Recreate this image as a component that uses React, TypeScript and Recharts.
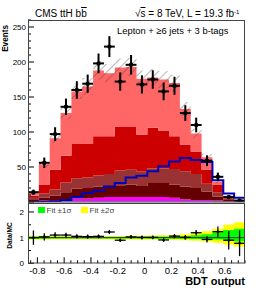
import React from 'react';
import { ComposedChart, Area, Line, Scatter, ErrorBar, XAxis, YAxis, ReferenceLine } from 'recharts';

const FONT = '"Liberation Sans", Arial, Helvetica, sans-serif';

// binning of the BDT output
const xMin = -0.87;
const xMax = 0.75;
const nBins = 20;
const binW = (xMax - xMin) / nBins;
const binEdges = Array.from({ length: nBins + 1 }, (_, i) => xMin + i * binW);
const binCenters = Array.from({ length: nBins }, (_, i) => xMin + (i + 0.5) * binW);

// stacked backgrounds, bottom to top
const ewk = [0.7, 1, 1, 1, 1, 1, 1, 1.2, 1.2, 1.2, 1.2, 1.2, 1.2, 1, 1, 1, 1, 0.8, 0.5, 0.2];
const singleTop = [0.8, 1, 2, 3, 4, 4, 5, 5.8, 5.8, 5.8, 5.8, 5.8, 5.8, 5, 3, 2, 2, 1.2, 0.5, 0.2];
const ttbb = [1.5, 4, 6, 10, 14, 15, 16, 16, 17, 18, 16, 20, 20, 19, 18, 17, 12, 6, 2, 0.4];
const ttb = [4, 6, 9, 14, 15, 15, 16, 17, 21, 21, 21, 21, 21, 22, 22, 20, 11, 6, 2, 0.2];
const ttcc = [2, 13, 28, 38, 49, 48, 56, 54, 62, 61, 52, 58, 54, 47, 38, 32, 20, 11, 3, 1];
const ttlf = [5, 29, 45, 61, 75, 82, 94, 90, 85, 86, 80, 72, 73, 76, 51, 26, 18, 4, 1, 1];
const bkgUnc = [1.5, 4, 7, 9, 11, 12, 13, 13, 13, 13, 12, 12, 12, 12, 10, 7, 5, 2.5, 1, 0.4];

// signal (overlay line)
const tthSignal = [0, 0.5, 1, 3, 7, 13, 16, 22, 27, 35, 37.6, 44, 51, 58, 63, 60, 57, 31, 12, 6];

// data
const dataCounts = [14, 56, 97, 136, 160, 169, 198, 222, 172, 196, 168, 175, 158, 166, 127, 110, 59, 36, 7, 2];
const dataErr = [3.7, 7.5, 9.8, 11.7, 12.6, 13, 14.1, 14.9, 13.1, 14, 13, 13.2, 12.6, 12.9, 11.3, 10.5, 7.7, 6, 2.6, 1.4];

// ratio panel
const ratioVals = [1.0, 1.03, 1.1, 1.1, 1.05, 1.04, 1.05, 1.22, 0.9, 1.03, 1.01, 1.01, 0.91, 1.06, 1.01, 1.19, 0.93, 1.23, 0.9, 0.78];
const ratioErr = [0.28, 0.14, 0.11, 0.095, 0.082, 0.08, 0.075, 0.082, 0.069, 0.073, 0.078, 0.076, 0.073, 0.082, 0.09, 0.11, 0.12, 0.2, 0.36, 0.5];
const fit1Lo = [0.96, 0.96, 0.965, 0.965, 0.965, 0.965, 0.965, 0.965, 0.965, 0.965, 0.965, 0.96, 0.96, 0.96, 0.955, 0.95, 0.95, 0.93, 0.88, 0.85];
const fit1Hi = [1.04, 1.04, 1.035, 1.035, 1.035, 1.035, 1.035, 1.035, 1.035, 1.035, 1.04, 1.04, 1.045, 1.05, 1.06, 1.09, 1.13, 1.2, 1.3, 1.35];
const fit2Lo = [0.93, 0.93, 0.935, 0.935, 0.935, 0.935, 0.935, 0.935, 0.935, 0.93, 0.93, 0.925, 0.92, 0.915, 0.9, 0.88, 0.85, 0.8, 0.72, 0.65];
const fit2Hi = [1.07, 1.07, 1.065, 1.065, 1.065, 1.065, 1.065, 1.065, 1.065, 1.07, 1.075, 1.08, 1.09, 1.1, 1.13, 1.18, 1.25, 1.35, 1.5, 1.6];

// axis ticks
const xMajorTicks = [-0.8, -0.6, -0.4, -0.2, 0, 0.2, 0.4, 0.6];
const xAllTicks = Array.from({ length: 33 }, (_, i) => Math.round((-0.85 + i * 0.05) * 100) / 100);
const yMainTicks = Array.from({ length: 27 }, (_, i) => i * 10);
const yMainLabels = [50, 100, 150, 200, 250];
const yRatioTicks = [0, 0.5, 1, 1.5, 2];
const yRatioLabels = [0, 1, 2];

const COLORS = {
  ewk: '#66ccff',
  singleTop: '#ff00ff',
  ttbb: '#660000',
  ttb: '#993333',
  ttcc: '#cc0000',
  ttlf: '#ff6666',
  sig: '#0000bb',
};

const edgeData = binEdges.map((x, i) => {
  const j = Math.min(i, nBins - 1);
  const tot = ewk[j] + singleTop[j] + ttbb[j] + ttb[j] + ttcc[j] + ttlf[j];
  return {
    x,
    ewk: ewk[j],
    singleTop: singleTop[j],
    ttbb: ttbb[j],
    ttb: ttb[j],
    ttcc: ttcc[j],
    ttlf: ttlf[j],
    band: [tot - bkgUnc[j], tot + bkgUnc[j]],
    sig: tthSignal[j],
  };
});

const ratioEdgeData = binEdges.map((x, i) => {
  const j = Math.min(i, nBins - 1);
  return { x, f1: [fit1Lo[j], fit1Hi[j]], f2: [fit2Lo[j], fit2Hi[j]] };
});

const dataPts = binCenters.map((x, i) => ({ x, y: dataCounts[i], ex: binW / 2, ey: dataErr[i] }));
const ratioPts = binCenters.map((x, i) => ({ x, y: ratioVals[i], ex: binW / 2, ey: ratioErr[i] }));

const isMajorX = (v: number) => xMajorTicks.some((m) => Math.abs(m - v) < 1e-6);

const makeXTick = (labels: boolean) => (props: any) => {
  const { x, y, payload } = props;
  const v = payload.value;
  const major = isMajorX(v);
  return (
    <g>
      <line x1={x} x2={x} y1={y} y2={y - (major ? 6 : 3)} stroke="#000" strokeWidth={1} />
      {labels && major && (
        <text x={x} y={y + 11} textAnchor="middle" fontSize={9.5} fontFamily={FONT} fill="#000">
          {v === 0 ? '0' : v.toFixed(1)}
        </text>
      )}
    </g>
  );
};

const YTickMain = (props: any) => {
  const { x, y, payload } = props;
  const v = payload.value;
  const major = v % 50 === 0;
  return (
    <g>
      <line x1={x} x2={x + (major ? 6 : 3)} y1={y} y2={y} stroke="#000" strokeWidth={1} />
      {yMainLabels.includes(v) && (
        <text x={x - 2} y={y + 3} textAnchor="end" fontSize={8} fontFamily={FONT} fill="#000">
          {v}
        </text>
      )}
    </g>
  );
};

const YTickRatio = (props: any) => {
  const { x, y, payload } = props;
  const v = payload.value;
  const major = yRatioLabels.includes(v);
  return (
    <g>
      <line x1={x} x2={x + (major ? 6 : 3)} y1={y} y2={y} stroke="#000" strokeWidth={1} />
      {major && (
        <text x={x - 4} y={y + 3} textAnchor="end" fontSize={8} fontFamily={FONT} fill="#000">
          {v}
        </text>
      )}
    </g>
  );
};

const DataDot = (props: any) => <circle cx={props.cx} cy={props.cy} r={2.2} fill="#000" />;
const RatioDot = (props: any) => <circle cx={props.cx} cy={props.cy} r={1.3} fill="#000" />;

const abs: React.CSSProperties = { position: 'absolute', left: 0, top: 0 };
const txt: React.CSSProperties = { position: 'absolute', fontFamily: FONT, lineHeight: 1, whiteSpace: 'nowrap', color: '#000' };

export default function App() {
  return (
    <div style={{ position: 'absolute', left: 0, top: 0, width: 258, height: 290, background: '#fff', overflow: 'hidden' }}>
      <div style={{ ...abs }}>
        <ComposedChart width={258} height={204} data={edgeData} margin={{ top: 20, right: 13, bottom: 2, left: 0 }}>
          <defs>
            <pattern id="hatch" width="6" height="6" patternUnits="userSpaceOnUse" patternTransform="rotate(45)">
              <line x1="0" y1="0" x2="0" y2="6" stroke="#444" strokeWidth="0.8" />
            </pattern>
          </defs>
          <XAxis
            type="number"
            dataKey="x"
            domain={[xMin, xMax]}
            allowDataOverflow
            ticks={xAllTicks}
            interval={0}
            tick={makeXTick(false)}
            tickLine={false}
            axisLine={false}
            tickSize={0}
            tickMargin={0}
            height={0}
          />
          <YAxis
            type="number"
            domain={[0, 260]}
            allowDataOverflow
            ticks={yMainTicks}
            interval={0}
            tick={YTickMain}
            tickLine={false}
            axisLine={false}
            tickSize={0}
            tickMargin={0}
            width={28}
          />
          <Area stackId="s" type="stepAfter" dataKey="ewk" fill={COLORS.ewk} fillOpacity={1} stroke="none" isAnimationActive={false} />
          <Area stackId="s" type="stepAfter" dataKey="singleTop" fill={COLORS.singleTop} fillOpacity={1} stroke="none" isAnimationActive={false} />
          <Area stackId="s" type="stepAfter" dataKey="ttbb" fill={COLORS.ttbb} fillOpacity={1} stroke="none" isAnimationActive={false} />
          <Area stackId="s" type="stepAfter" dataKey="ttb" fill={COLORS.ttb} fillOpacity={1} stroke="none" isAnimationActive={false} />
          <Area stackId="s" type="stepAfter" dataKey="ttcc" fill={COLORS.ttcc} fillOpacity={1} stroke="none" isAnimationActive={false} />
          <Area stackId="s" type="stepAfter" dataKey="ttlf" fill={COLORS.ttlf} fillOpacity={1} stroke="none" isAnimationActive={false} />
          <Area type="stepAfter" dataKey="band" fill="url(#hatch)" fillOpacity={1} stroke="none" isAnimationActive={false} />
          <Line type="stepAfter" dataKey="sig" stroke={COLORS.sig} strokeWidth={2} dot={false} isAnimationActive={false} />
          <Scatter data={dataPts} dataKey="y" fill="#000" shape={DataDot} isAnimationActive={false}>
            <ErrorBar dataKey="ey" direction="y" width={0} stroke="#000" strokeWidth={2} />
            <ErrorBar dataKey="ex" direction="x" width={0} stroke="#000" strokeWidth={2} />
          </Scatter>
        </ComposedChart>
      </div>
      <div style={{ ...abs, top: 202 }}>
        <ComposedChart width={258} height={88} data={ratioEdgeData} margin={{ top: 1, right: 13, bottom: 0, left: 0 }}>
          <XAxis
            type="number"
            dataKey="x"
            domain={[xMin, xMax]}
            allowDataOverflow
            ticks={xAllTicks}
            interval={0}
            tick={makeXTick(true)}
            tickLine={false}
            axisLine={false}
            tickSize={0}
            tickMargin={0}
            height={26.7}
          />
          <YAxis
            type="number"
            domain={[0, 2.35]}
            allowDataOverflow
            ticks={yRatioTicks}
            interval={0}
            tick={YTickRatio}
            tickLine={false}
            axisLine={false}
            tickSize={0}
            tickMargin={0}
            width={28}
          />
          <Area type="stepAfter" dataKey="f2" fill="#ffff00" fillOpacity={1} stroke="none" isAnimationActive={false} />
          <Area type="stepAfter" dataKey="f1" fill="#00ff00" fillOpacity={1} stroke="none" isAnimationActive={false} />
          <ReferenceLine y={1} stroke="#333" strokeWidth={1} />
          <Scatter data={ratioPts} dataKey="y" fill="#000" shape={RatioDot} isAnimationActive={false}>
            <ErrorBar dataKey="ey" direction="y" width={0} stroke="#000" strokeWidth={1.3} />
            <ErrorBar dataKey="ex" direction="x" width={0} stroke="#000" strokeWidth={1.3} />
          </Scatter>
        </ComposedChart>
      </div>

      <svg width={258} height={290} style={{ ...abs, pointerEvents: 'none' }}>
        <rect x={28.5} y={20.5} width={216} height={181.5} fill="none" stroke="#444" strokeWidth={1} />
        <rect x={28.5} y={203.5} width={216} height={59.5} fill="none" stroke="#444" strokeWidth={1} />
        <text x={117} y={33.5} fontSize={9.4} fontFamily={FONT} fill="#000">Lepton + ≥6 jets + 3 b-tags</text>
        <text transform="translate(8.3,25) rotate(-90)" textAnchor="end" fontSize={8.2} fontWeight="bold" fontFamily={FONT} fill="#000">Events</text>
        <text transform="translate(11.7,235.5) rotate(-90)" textAnchor="middle" fontSize={6.6} fontWeight="bold" fontFamily={FONT} fill="#000">Data/MC</text>
        <text x={245} y={285} textAnchor="end" fontSize={11} fontWeight="bold" fontFamily={FONT} fill="#000">BDT output</text>
        <rect x={38} y={207} width={7} height={6} fill="#00ff00" />
        <text x={46.5} y={213} fontSize={8} fontFamily={FONT} fill="#444">Fit ±1σ</text>
        <rect x={81} y={207} width={7} height={6} fill="#ffff00" />
        <text x={89.5} y={213} fontSize={8} fontFamily={FONT} fill="#444">Fit ±2σ</text>
      </svg>
      <div style={{ ...txt, left: 35, top: 8.5, fontSize: 10 }}>
        CMS ttH b<span style={{ textDecoration: 'overline' }}>b</span>
      </div>
      <div style={{ ...txt, left: 135, top: 8.5, fontSize: 10 }}>
        √<span style={{ textDecoration: 'overline' }}>s</span> = 8 TeV, L = 19.3 fb
        <span style={{ position: 'relative', top: '-0.45em', fontSize: '0.6em' }}>-1</span>
      </div>
    </div>
  );
}
